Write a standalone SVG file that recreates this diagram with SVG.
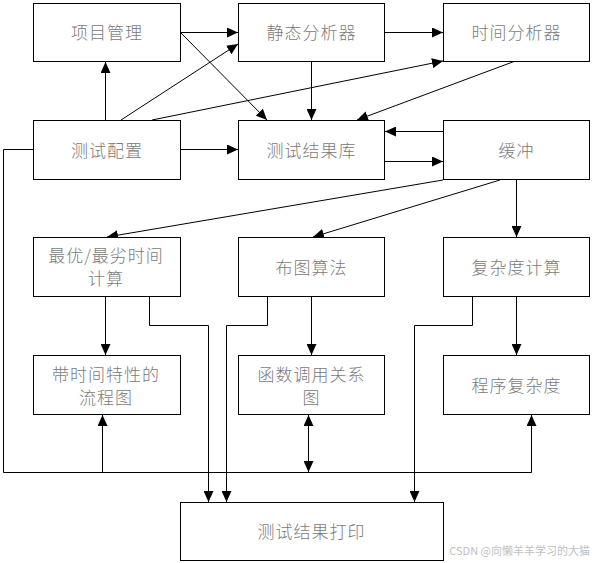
<svg xmlns="http://www.w3.org/2000/svg" width="592" height="563" viewBox="0 0 592 563">
<defs>
<marker id="arr" markerUnits="userSpaceOnUse" markerWidth="11" markerHeight="10" refX="11" refY="5" orient="auto-start-reverse" viewBox="0 0 11 10">
<path d="M0,0 L11,5 L0,10 z" fill="#000"/>
</marker>
<style>
.box{fill:#fff;stroke:#000;stroke-width:1}
.t{font-family:"Noto Sans CJK SC","Noto Sans",sans-serif;font-size:17px;font-weight:300;fill:#7a7a7a;text-anchor:middle;dominant-baseline:central;letter-spacing:1px}
.c{fill:none;stroke:#000;stroke-width:1}
.a{marker-end:url(#arr)}
.wm{font-family:"Noto Sans CJK SC","Noto Sans",sans-serif;font-size:11px;fill:#c0c0c0;text-anchor:end}
</style>
</defs>
<rect width="592" height="563" fill="#fff"/>
<g id="connectors">
<line class="c a" x1="180.5" y1="32.5" x2="238" y2="32.5"/>
<line class="c a" x1="180.5" y1="32.5" x2="267" y2="120"/>
<line class="c a" x1="105.5" y1="120" x2="105.5" y2="62"/>
<line class="c a" x1="121" y1="120" x2="238" y2="44"/>
<line class="c a" x1="152" y1="120" x2="443" y2="61"/>
<line class="c a" x1="180.5" y1="149.5" x2="238" y2="149.5"/>
<line class="c a" x1="384.5" y1="32.5" x2="443" y2="32.5"/>
<line class="c a" x1="311.5" y1="61.5" x2="311.5" y2="120"/>
<line class="c a" x1="514" y1="61.5" x2="357" y2="120"/>
<line class="c a" x1="443.5" y1="131.5" x2="385" y2="131.5"/>
<line class="c a" x1="384.5" y1="161.5" x2="443" y2="161.5"/>
<line class="c a" x1="443" y1="180" x2="107" y2="237"/>
<line class="c a" x1="500" y1="180" x2="313" y2="237"/>
<line class="c a" x1="516.5" y1="179.5" x2="516.5" y2="237"/>
<line class="c a" x1="105.5" y1="296.5" x2="105.5" y2="355"/>
<line class="c a" x1="311.5" y1="296.5" x2="311.5" y2="355"/>
<line class="c a" x1="516.5" y1="296.5" x2="516.5" y2="355"/>
<polyline class="c a" points="149.5,296.5 149.5,325.5 208.5,325.5 208.5,502"/>
<polyline class="c a" points="267.5,296.5 267.5,325.5 226.5,325.5 226.5,502"/>
<polyline class="c a" points="472.5,296.5 472.5,325.5 414.5,325.5 414.5,502"/>
<polyline class="c" points="33.5,149.5 3.5,149.5 3.5,472.5 531.5,472.5"/>
<line class="c a" x1="102.5" y1="472.5" x2="102.5" y2="415"/>
<line class="c a" x1="531.5" y1="472.5" x2="531.5" y2="415"/>
<line class="c a" x1="308.5" y1="472" x2="308.5" y2="415" style="marker-start:url(#arr)"/>
</g>
<g id="n1"><rect class="box" x="33.5" y="3.5" width="147" height="58"/><text class="t" x="107" y="31.5">项目管理</text></g>
<g id="n2"><rect class="box" x="238.5" y="3.5" width="146" height="58"/><text class="t" x="311.5" y="31.5">静态分析器</text></g>
<g id="n3"><rect class="box" x="443.5" y="3.5" width="146" height="58"/><text class="t" x="516.5" y="31.5">时间分析器</text></g>
<g id="n4"><rect class="box" x="33.5" y="120.5" width="147" height="59"/><text class="t" x="107" y="149.5">测试配置</text></g>
<g id="n5"><rect class="box" x="238.5" y="120.5" width="146" height="59"/><text class="t" x="311.5" y="149.5">测试结果库</text></g>
<g id="n6"><rect class="box" x="443.5" y="120.5" width="146" height="59"/><text class="t" x="516.5" y="149.5">缓冲</text></g>
<g id="n7"><rect class="box" x="33.5" y="237.5" width="147" height="59"/><text class="t" x="106" y="254">最优/最劣时间</text><text class="t" x="106" y="277">计算</text></g>
<g id="n8"><rect class="box" x="238.5" y="237.5" width="146" height="59"/><text class="t" x="311.5" y="266.5">布图算法</text></g>
<g id="n9"><rect class="box" x="443.5" y="237.5" width="146" height="59"/><text class="t" x="516.5" y="266.5">复杂度计算</text></g>
<g id="n10"><rect class="box" x="33.5" y="355.5" width="147" height="59"/><text class="t" x="106" y="373">带时间特性的</text><text class="t" x="106" y="396">流程图</text></g>
<g id="n11"><rect class="box" x="238.5" y="355.5" width="146" height="59"/><text class="t" x="311.5" y="373">函数调用关系</text><text class="t" x="311.5" y="396">图</text></g>
<g id="n12"><rect class="box" x="443.5" y="355.5" width="146" height="59"/><text class="t" x="516.5" y="384">程序复杂度</text></g>
<g id="n13"><rect class="box" x="180.5" y="502.5" width="263" height="58"/><text class="t" x="311.5" y="530.5">测试结果打印</text></g>
<text class="wm" x="590" y="555">CSDN @向懒羊羊学习的大猫</text>
</svg>
